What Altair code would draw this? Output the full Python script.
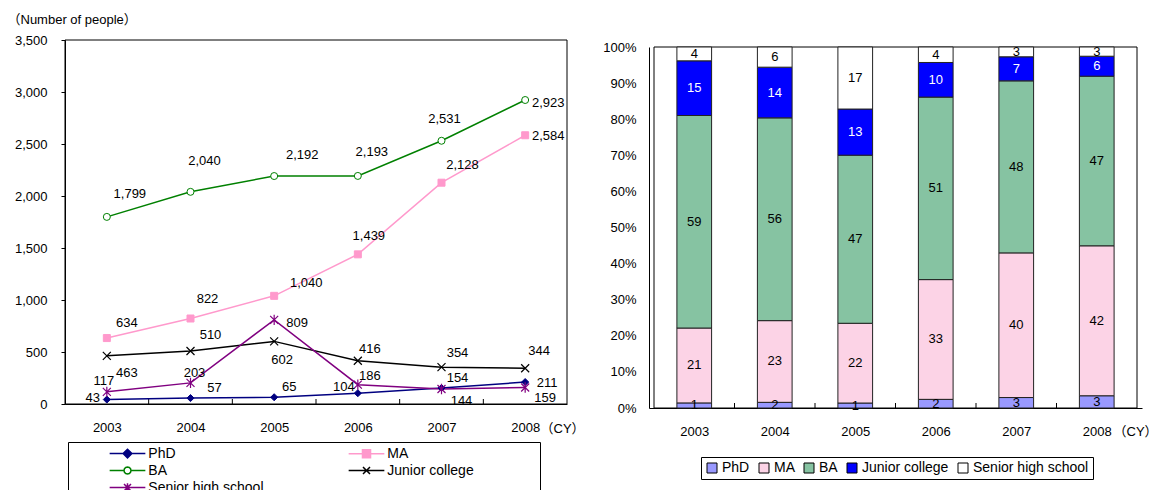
import altair as alt
import pandas as pd

# ---------------------------------------------------------------- data
YEARS = [2003, 2004, 2005, 2006, 2007, 2008]
LEVELS = ["PhD", "MA", "BA", "Junior college", "Senior high school"]

phd = [43, 57, 65, 104, 154, 211]
ma = [634, 822, 1040, 1439, 2128, 2584]
ba = [1799, 2040, 2192, 2193, 2531, 2923]
junior_college = [463, 510, 602, 416, 354, 344]
senior_high_school = [117, 203, 809, 186, 144, 159]

COUNTS = dict(zip(LEVELS, [phd, ma, ba, junior_college, senior_high_school]))

# placement of each value label relative to its point, in px (dx right, dy down)
LABEL_NUDGE = {
    "PhD": [(-14, -2), (24, -10), (15, -10), (-14, -6), (16, -10), (22, 1)],
    "MA": [(20, -15), (17, -20), (32, -13), (11, -18), (21, -18), (23, 1)],
    "BA": [(23, -23), (14, -31), (28, -21), (14, -24), (3, -22), (23, 3)],
    "Junior college": [(20, 17), (20, -16), (8, 19), (12, -12), (16, -14), (14, -17)],
    "Senior high school": [(-3, -11), (4, -10), (23, 3), (12, -9), (20, 12), (20, 10.5)],
}

# ---------------------------------------------------------------- style
FONT = "Liberation Sans"
TITLE_FONT = "Liberation Sans, Noto Sans CJK JP"
NAVY, PINK, GREEN, BLACK, PURPLE = "#000080", "#ff99cc", "#008000", "#000000", "#800080"
LINE_COLORS = [NAVY, PINK, GREEN, BLACK, PURPLE]
BAR_COLORS = ["#9999ff", "#fcd3e6", "#86c3a2", "#0000ff", "#ffffff"]

X_PATH = "M-1,-1L1,1M-1,1L1,-1"
STAR_PATH = "M-1,-1L1,1M-1,1L1,-1M0,-1.3V1.3"
MARKERS = {
    "PhD": dict(shape="diamond", size=50, filled=True, fill=NAVY, stroke=NAVY, strokeWidth=1),
    "MA": dict(shape="square", size=49, filled=True, fill=PINK, stroke=PINK, strokeWidth=1),
    "BA": dict(shape="circle", size=49, filled=True, fill="white", stroke=GREEN, strokeWidth=1),
    "Junior college": dict(shape=X_PATH, size=64, filled=False, stroke=BLACK, strokeWidth=1.2),
    "Senior high school": dict(shape=STAR_PATH, size=64, filled=False, stroke=PURPLE, strokeWidth=1.2),
}

# legend keys: a line segment through the marker (unit = half the symbol box)
RING = ("M0.4,0L0.346,0.2L0.2,0.346L0,0.4L-0.2,0.346L-0.346,0.2L-0.4,0"
        "L-0.346,-0.2L-0.2,-0.346L0,-0.4L0.2,-0.346L0.346,-0.2Z")
LEGEND_PATHS = [
    "M-2.04,0H2.04M0,-0.5L0.5,0L0,0.5L-0.5,0Z",
    "M-2.04,0H2.04M-0.46,-0.46H0.46V0.46H-0.46Z",
    "M-2.04,0H-0.4M0.4,0H2.04" + RING,
    "M-2.04,0H2.04M-0.4,-0.4L0.4,0.4M-0.4,0.4L0.4,-0.4",
    "M-2.04,0H2.04M-0.4,-0.4L0.4,0.4M-0.4,0.4L0.4,-0.4M0,-0.5V0.5",
]
LEGEND_FILLS = [NAVY, PINK, "white", "transparent", "transparent"]

# ---------------------------------------------------------------- layout (px)
W, H = 1152, 490
LX0, LX1, LY_TOP, LY_BOT = 65, 567, 40, 404
RX0, RX1, RY_TOP, RY_BOT = 649, 1142, 47, 408
YEAR_DOMAIN = [2002.5, 2008.5]
L_MAX = 3500
TICK_PX = 5
BAR_PX = 34.7

# ---------------------------------------------------------------- tables
rows = []
for rank, lvl in enumerate(LEVELS):
    for i, yr in enumerate(YEARS):
        dx, dy = LABEL_NUDGE[lvl][i]
        rows.append(dict(year=yr, level=lvl, rank=rank, count=COUNTS[lvl][i], dx=dx, dy=dy))
df = pd.DataFrame(rows)

left_px_x = (YEAR_DOMAIN[1] - YEAR_DOMAIN[0]) / (LX1 - LX0)
left_px_y = L_MAX / (LY_BOT - LY_TOP)
right_px_y = 1.0 / (RY_BOT - RY_TOP)

bounds_years = [y + 0.5 for y in YEARS[:-1]]
left_ticks = pd.DataFrame({"b": bounds_years, "y0": 0.0, "y1": TICK_PX * left_px_y})
right_ticks = pd.DataFrame({"b": bounds_years, "y0": 0.0, "y1": TICK_PX * right_px_y})
left_frame = pd.DataFrame({"x0": [YEAR_DOMAIN[0]], "x1": [YEAR_DOMAIN[1]], "y0": [0], "y1": [L_MAX]})
right_frame = pd.DataFrame({"x0": [YEAR_DOMAIN[0]], "x1": [YEAR_DOMAIN[1]], "y0": [0], "y1": [1]})

# ---------------------------------------------------------------- left panel: counts
xl = alt.Scale(domain=YEAR_DOMAIN, range=[LX0, LX1], nice=False, zero=False)
yl = alt.Scale(domain=[0, L_MAX], range=[LY_BOT, LY_TOP], nice=False, zero=False)
AX_LX = alt.Axis(
    orient="bottom", offset=LY_BOT - H, values=YEARS, format="d", ticks=False, tickSize=0,
    labelPadding=17, labelFlush=False, labelOverlap=False, grid=False,
    title="（CY）", titleAngle=0, titleAlign="left", titleBaseline="middle",
    titleX=540, titleY=24)
AX_LY = alt.Axis(
    orient="left", offset=-LX0, values=list(range(0, L_MAX + 1, 500)), format=",d",
    tickSize=4, labelPadding=14, grid=False,
    title="（Number of people）", titleAngle=0, titleAlign="left", titleBaseline="middle",
    titleX=7 - LX0, titleY=19)


def lx(field):
    return alt.X(field, type="quantitative", scale=xl, axis=AX_LX)


def ly(field):
    return alt.Y(field, type="quantitative", scale=yl, axis=AX_LY)


left_box = alt.Chart(left_frame).mark_rect(fill="transparent", stroke="black", strokeWidth=1).encode(
    x=lx("x0"), x2="x1", y=ly("y0"), y2="y1",
)

left_tick_marks = alt.Chart(left_ticks).mark_rule(color="black", strokeWidth=1).encode(
    x=lx("b"), y=ly("y0"), y2="y1",
)

line_layers, point_layers = [], []
for lvl, col in zip(LEVELS, LINE_COLORS):
    base = alt.Chart(df).transform_filter(alt.datum.level == lvl)
    line_layers.append(base.mark_line(color=col, strokeWidth=1.5).encode(x=lx("year"), y=ly("count")))
    point_layers.append(base.mark_point(opacity=1, **MARKERS[lvl]).encode(x=lx("year"), y=ly("count")))

value_labels = alt.Chart(df).transform_calculate(
    lx=f"datum.year + datum.dx * {left_px_x}",
    ly=f"datum.count - datum.dy * {left_px_y}",
).mark_text(font=FONT, fontSize=13, color="black", align="center", baseline="middle").encode(
    x=lx("lx"), y=ly("ly"), text=alt.Text("count:Q", format=","),
)

left_legend = alt.Legend(
    orient="none", legendX=68, legendY=442, direction="horizontal", columns=2,
    title=" ", titleOrient="right", titlePadding=64,
    symbolSize=306.25, symbolStrokeWidth=1.5, symbolOpacity=1,
    symbolOffset=48, labelOffset=11.3,
    labelFont=FONT, labelFontSize=14, labelColor="black",
    columnPadding=45, rowPadding=0, padding=2, strokeColor="black",
)
legend_keys = alt.Chart(df).transform_filter("false").mark_point(filled=True, opacity=1).encode(
    fill=alt.Fill("level:N", scale=alt.Scale(domain=LEVELS, range=LEGEND_FILLS), legend=left_legend),
    stroke=alt.Stroke("level:N", scale=alt.Scale(domain=LEVELS, range=LINE_COLORS), legend=left_legend),
    shape=alt.Shape("level:N", scale=alt.Scale(domain=LEVELS, range=LEGEND_PATHS), legend=left_legend),
)

left_panel = alt.layer(
    left_box, left_tick_marks, *line_layers, *point_layers, value_labels, legend_keys
)

# ---------------------------------------------------------------- right panel: shares
xr = alt.Scale(domain=YEAR_DOMAIN, range=[RX0, RX1], nice=False, zero=False)
yr = alt.Scale(domain=[0, 1], range=[RY_BOT, RY_TOP], nice=False, zero=False)
AX_RX = alt.Axis(
    orient="bottom", offset=RY_BOT - H, values=YEARS, format="d", ticks=False, tickSize=0,
    labelPadding=17, labelFlush=False, labelOverlap=False, grid=False,
    title="（CY）", titleAngle=0, titleAlign="left", titleBaseline="middle",
    titleX=1113, titleY=23)
AX_RY = alt.Axis(
    orient="left", offset=-RX0, values=[i / 10 for i in range(11)], format=".0%",
    ticks=False, tickSize=0, labelPadding=13, grid=False, title=None)


def rx(field):
    return alt.X(field, type="quantitative", scale=xr, axis=AX_RX)


def ry(field):
    return alt.Y(field, type="quantitative", scale=yr, axis=AX_RY)


stacked = alt.Chart(df).transform_stack(
    stack="count", groupby=["year"], sort=[alt.SortField("rank", order="ascending")],
    offset="normalize", as_=["y0", "y1"],
).transform_calculate(
    mid="(datum.y0 + datum.y1) / 2",
    pct="round((datum.y1 - datum.y0) * 100)",
)

right_legend = alt.Legend(
    orient="none", legendX=701, legendY=457, direction="horizontal", title=None,
    symbolType="square", symbolSize=100, symbolStrokeColor="black", symbolStrokeWidth=1,
    labelFont=FONT, labelFontSize=14, labelColor="black", labelOffset=3, columnPadding=7,
    padding=4, strokeColor="black",
)

right_box = alt.Chart(right_frame).mark_rect(fill="transparent", stroke="black", strokeWidth=1).encode(
    x=rx("x0"), x2="x1", y=ry("y0"), y2="y1",
)

bars = stacked.mark_bar(size=BAR_PX, stroke="#222222", strokeWidth=1).encode(
    x=rx("year"), y=ry("y0"), y2="y1",
    fill=alt.Fill("level:N", scale=alt.Scale(domain=LEVELS, range=BAR_COLORS), legend=right_legend),
)

share_labels = stacked.mark_text(font=FONT, fontSize=13, align="center", baseline="middle").encode(
    x=rx("year"), y=ry("mid"),
    text=alt.Text("pct:Q", format=".0f"),
    color=alt.condition(alt.datum.level == "Junior college", alt.value("white"), alt.value("black")),
)

right_tick_marks = alt.Chart(right_ticks).mark_rule(color="black", strokeWidth=1).encode(
    x=rx("b"), y=ry("y0"), y2="y1",
)

right_panel = alt.layer(right_box, bars, right_tick_marks, share_labels)

# ---------------------------------------------------------------- compose
chart = alt.layer(left_panel, right_panel).resolve_scale(
    x="independent", y="independent",
    fill="independent", stroke="independent", shape="independent",
).properties(
    width=W, height=H, padding=0, background="white",
    autosize=alt.AutoSizeParams(type="none"),
).configure_view(stroke=None).configure_axis(
    labelFont=FONT, labelFontSize=13, labelColor="black",
    titleFont=TITLE_FONT, titleFontSize=13, titleFontWeight="normal", titleColor="black",
    domainColor="black", domainWidth=1, tickColor="black",
)

chart.save("out.html", embed_options={"renderer": "svg", "actions": False})
